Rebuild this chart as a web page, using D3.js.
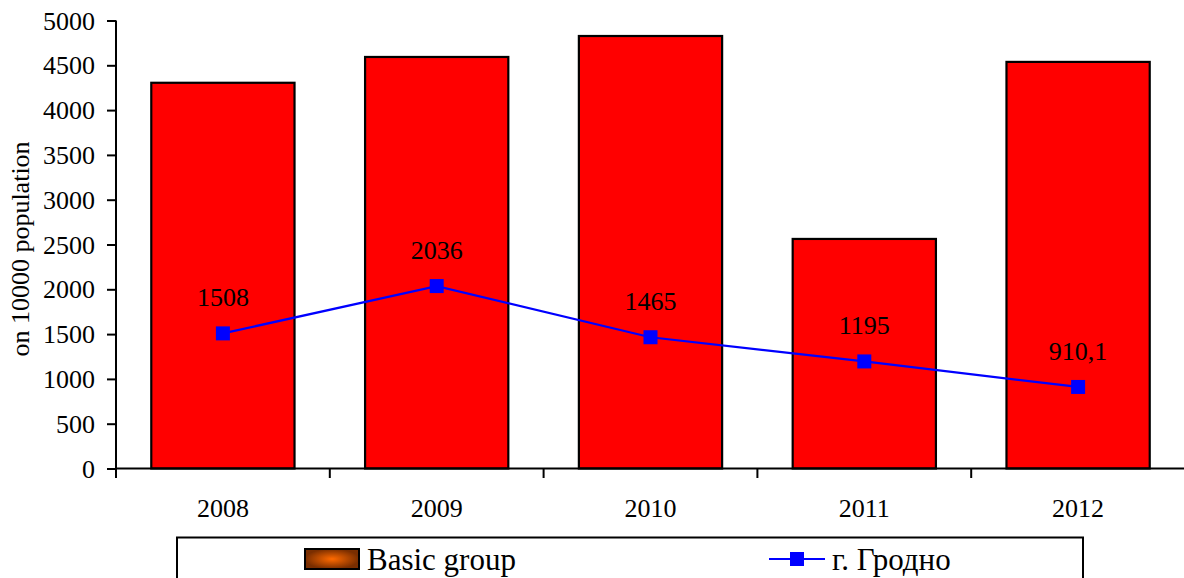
<!DOCTYPE html>
<html><head><meta charset="utf-8">
<script src="https://cdn.jsdelivr.net/npm/d3@7"></script>
<style>html,body{margin:0;padding:0;background:#fff;}svg{display:block;}</style>
</head><body>
<script>
const categories = ["2008","2009","2010","2011","2012"];
const basicGroup = [4305, 4593, 4827, 2562, 4538];
const grodno = [1508, 2036, 1465, 1195, 910.1];
const grodnoLabels = ["1508","2036","1465","1195","910,1"];
const yTicks = [0,500,1000,1500,2000,2500,3000,3500,4000,4500,5000];
const seriesNames = ["Basic group","г. Гродно"];
const yTitle = "on 10000 population";

const W = 1184, H = 578;
const FF = '"Liberation Serif"';
const svg = d3.select("body").append("svg").attr("width", W).attr("height", H);

const defs = svg.append("defs");
const grad = defs.append("radialGradient").attr("id","sw");
grad.append("stop").attr("offset","0%").attr("stop-color","#ff6a00");
grad.append("stop").attr("offset","100%").attr("stop-color","#7a2e00");

const x = d3.scaleBand().domain(categories).range([116, 1185]).paddingInner(0.33).paddingOuter(0.165);
const y = d3.scaleLinear().domain([0,5000]).range([468.5, 20.5]);

// bars
svg.append("g").selectAll("rect").data(categories).join("rect")
  .attr("x", d => x(d)).attr("width", x.bandwidth())
  .attr("y", (d,i) => y(basicGroup[i])).attr("height", (d,i) => y(0) - y(basicGroup[i]))
  .attr("fill", "#ff0000").attr("stroke", "#000").attr("stroke-width", 2.2);

// y axis
const yAxis = svg.append("g").attr("transform","translate(116,0)")
  .call(d3.axisLeft(y).tickValues(yTicks).tickSize(9).tickPadding(12).tickFormat(d3.format("d")));
yAxis.select(".domain").attr("stroke","#000").attr("stroke-width",2).attr("d","M0,20.5V468.5");
yAxis.selectAll(".tick line").attr("stroke","#000").attr("stroke-width",2);
yAxis.selectAll("text").style("font-family",FF).style("font-size","26px").attr("fill","#000").attr("dy","0.33em");

// x axis
const xAxis = svg.append("g").attr("transform","translate(0,468.5)")
  .call(d3.axisBottom(x).tickSize(0).tickPadding(30));
xAxis.select(".domain").attr("stroke","#000").attr("stroke-width",2).attr("d","M116,0H1185");
xAxis.selectAll("text").style("font-family",FF).style("font-size","26px").attr("fill","#000");
const step = x.step();
const bounds = d3.range(categories.length).map(i => 116 + i*step);
svg.append("g").selectAll("line").data(bounds).join("line")
  .attr("x1", d=>d).attr("x2", d=>d).attr("y1", 468.5).attr("y2", 478)
  .attr("stroke","#000").attr("stroke-width",2);

// y title
svg.append("text").attr("transform","translate(29,249) rotate(-90)")
  .attr("text-anchor","middle").style("font-family",FF).style("font-size","26px").attr("fill","#000")
  .text(yTitle);

// line series
const cx = d => x(d) + x.bandwidth()/2;
const line = d3.line().x((d,i) => cx(categories[i])).y(d => y(d));
svg.append("path").datum(grodno).attr("d", line).attr("fill","none")
  .attr("stroke","#0000ff").attr("stroke-width",2.2);
svg.append("g").selectAll("rect").data(grodno).join("rect")
  .attr("x",(d,i)=>cx(categories[i])-7).attr("y",d=>y(d)-7).attr("width",14).attr("height",14)
  .attr("fill","#0000ff");
svg.append("g").selectAll("text").data(grodno).join("text")
  .attr("x",(d,i)=>cx(categories[i])).attr("y",d=>y(d)-27)
  .attr("text-anchor","middle").style("font-family",FF).style("font-size","26px").attr("fill","#000")
  .text((d,i)=>grodnoLabels[i]);

// legend
const lg = svg.append("g");
lg.append("rect").attr("x",177).attr("y",537.5).attr("width",906).attr("height",80)
  .attr("fill","#fff").attr("stroke","#000").attr("stroke-width",2);
lg.append("rect").attr("x",305).attr("y",549).attr("width",54).attr("height",20)
  .attr("fill","url(#sw)").attr("stroke","#000").attr("stroke-width",2);
lg.append("text").attr("x",367).attr("y",570).style("font-family",FF).style("font-size","31px").attr("fill","#000").text(seriesNames[0]);
lg.append("line").attr("x1",769).attr("x2",825).attr("y1",559).attr("y2",559).attr("stroke","#0000ff").attr("stroke-width",2.2);
lg.append("rect").attr("x",790).attr("y",552).attr("width",14).attr("height",14).attr("fill","#0000ff");
lg.append("text").attr("x",832).attr("y",570).style("font-family",FF).style("font-size","31px").attr("fill","#000").text(seriesNames[1]);
</script>
</body></html>
